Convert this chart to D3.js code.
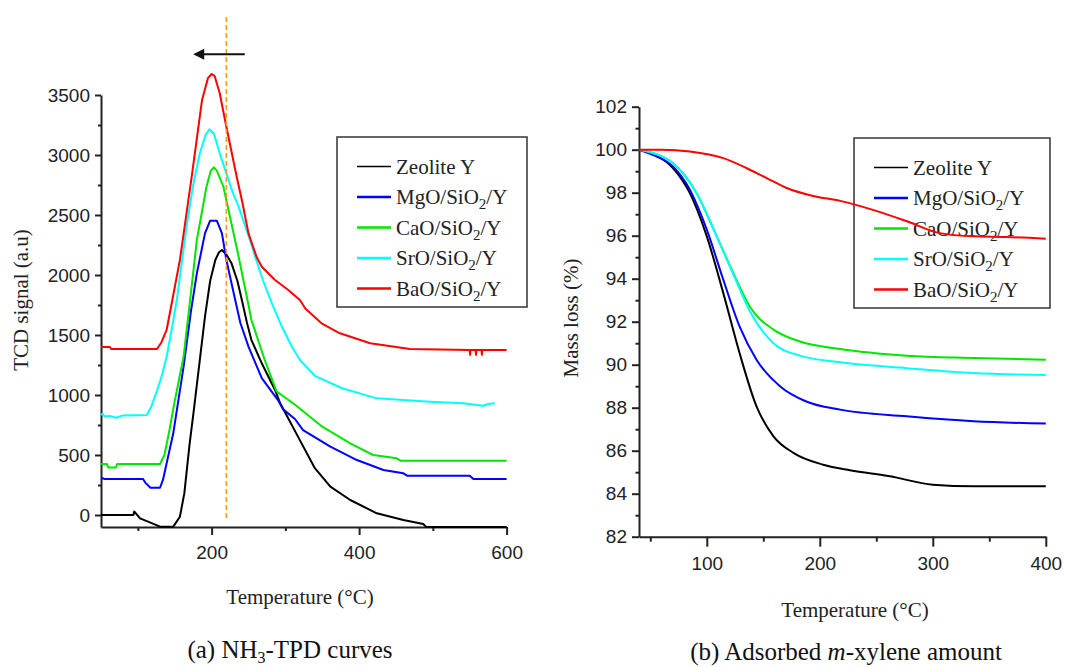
<!DOCTYPE html>
<html>
<head>
<meta charset="utf-8">
<script src="https://cdn.jsdelivr.net/npm/d3@7"></script>
<style>
  body { margin: 0; background: #fff; }
  svg { display: block; }
  .axis path, .axis line { stroke: #222; stroke-width: 2; }
  .axis text { font-family: "Liberation Sans", Arial, sans-serif; font-size: 19px; fill: #222; }
  .title { font-family: "Liberation Serif", "Times New Roman", serif; font-size: 21px; fill: #222; }
  .legend text { font-family: "Liberation Serif", "Times New Roman", serif; font-size: 21px; fill: #222; }
  .caption { font-family: "Liberation Serif", "Times New Roman", serif; font-size: 25px; fill: #111; }
</style>
</head>
<body>
<svg id="chart" width="1066" height="667"></svg>
<script>
// Series shared by both panels
const seriesNames = ['Zeolite Y', 'MgO/SiO2/Y', 'CaO/SiO2/Y', 'SrO/SiO2/Y', 'BaO/SiO2/Y'];
const seriesColors = ['#000000', '#0000ff', '#00e600', '#00ffff', '#ff0000'];

// (a) NH3-TPD, [temperature °C, TCD signal a.u.]
const tpdZeolite = [[50,0],[94,0],[95,30],[103,-28],[117,-64],[130,-97],[148,-97],[157,-14],[163,180],[170,585],[176,880],[184,1292],[191,1653],[198,1950],[205,2125],[210,2190],[214,2208],[220,2170],[227,2097],[235,1950],[241,1792],[248,1600],[254,1458],[268,1264],[286,1042],[293,931],[300,850],[320,620],[340,390],[361,236],[388,125],[424,14],[460,-42],[487,-75],[491,-100],[600,-100]];
const tpdMgO = [[50,310],[55,300],[107,300],[110,270],[117,227],[130,227],[134,292],[148,681],[162,1236],[172,1700],[180,2014],[191,2347],[198,2453],[207,2453],[214,2347],[220,2125],[232,1792],[239,1600],[250,1403],[268,1140],[290,958],[297,880],[313,800],[324,708],[361,569],[397,458],[433,375],[460,347],[465,328],[550,328],[555,300],[600,300]];
const tpdCaO = [[50,425],[58,425],[60,395],[70,395],[72,425],[130,425],[136,500],[142,680],[150,950],[162,1319],[171,1800],[180,2292],[193,2736],[199,2870],[203,2897],[207,2870],[216,2736],[235,2200],[250,1750],[254,1625],[272,1292],[288,1030],[315,910],[350,736],[388,597],[419,500],[451,472],[456,453],[600,453]];
const tpdSrO = [[50,833],[52,845],[55,820],[62,825],[70,810],[80,830],[112,833],[118,900],[125,1020],[132,1150],[139,1319],[146,1550],[153,1800],[166,2403],[175,2750],[184,3014],[192,3170],[197,3214],[203,3180],[211,3014],[229,2680],[236,2580],[252,2292],[259,2153],[270,1950],[282,1760],[296,1560],[309,1400],[320,1290],[340,1160],[377,1056],[424,972],[496,944],[541,931],[568,910],[575,925],[584,931]];
const tpdBaO = [[50,1400],[62,1400],[64,1383],[126,1383],[132,1440],[139,1542],[157,2125],[173,2819],[187,3458],[195,3640],[200,3675],[204,3660],[211,3514],[220,3236],[234,2819],[241,2625],[250,2347],[261,2150],[268,2069],[286,1958],[304,1875],[320,1790],[327,1720],[349,1597],[374,1514],[415,1431],[469,1383],[550,1375],[550.5,1335],[551,1375],[558,1375],[558.5,1335],[559,1375],[566,1375],[566.5,1335],[567,1375],[600,1375]];

// (b) adsorbed m-xylene, [temperature °C, mass %]
const tgaZeolite = [[40,100],[55,99.75],[70,99.15],[85,97.98],[100,95.97],[114.6,93.33],[129,90.54],[144,88.06],[159,86.67],[177,85.89],[203,85.35],[226.7,85.09],[262,84.81],[300,84.42],[336,84.35],[400,84.35]];
const tgaMgO = [[40,100],[55,99.7],[70,99.22],[85,98.14],[100,96.28],[114.6,93.95],[129,91.78],[144,90.23],[165,88.99],[188,88.29],[218,87.91],[277,87.6],[336,87.37],[400,87.26]];
const tgaCaO = [[40,100],[55,99.8],[70,99.38],[91,97.98],[108.8,95.97],[123.5,94.26],[138,92.71],[159,91.63],[182.5,91.08],[218,90.73],[277,90.42],[336,90.31],[400,90.23]];
const tgaSrO = [[40,100],[55,99.8],[70,99.38],[91,97.98],[108.8,95.97],[123.5,94.2],[138,92.5],[159,91.0],[182.5,90.42],[218,90.11],[277,89.84],[336,89.61],[400,89.52]];
const tgaBaO = [[40,100],[60,100],[85,99.92],[114.6,99.61],[135,99.15],[153,98.68],[170.7,98.22],[194,97.85],[218,97.62],[247,97.2],[277,96.67],[306,96.12],[336,95.97],[365,95.94],[400,95.86]];

// Ticks
const tpdXMajor = [200, 400, 600];
const tpdXMinor = [100, 300, 500];
const tpdYMajor = d3.range(0, 3501, 500);
const tpdYMinor = d3.range(250, 3300, 500);
const tgaXMajor = [100, 200, 300, 400];
const tgaXMinor = [50, 150, 250, 350];
const tgaYMajor = d3.range(82, 103, 2);
const tgaYMinor = d3.range(83, 102, 2);

// Peak shift annotation (temperature, signal)
const peakLineT = 220;
const peakLineSpan = [-25, 4175];
const arrowSpan = [245, 175];
const arrowLevel = 3840;

const svg = d3.select('#chart');

// Text with digits as subscripts (SiO2, NH3)
function subText(sel, label, subSize, shift) {
    label.split(/(\d)/).filter(s => s.length).forEach((part, i, arr) => {
        const t = sel.append('tspan').text(part);
        if (/\d/.test(part)) {
            t.attr('font-size', subSize).attr('dy', shift);
        } else if (i > 0 && /\d/.test(arr[i - 1])) {
            t.attr('dy', -shift);
        }
    });
}

function drawAxes(x, y, o) {
    const g = svg.append('g');
    const fmt = d3.format('d');
    g.append('g').attr('class', 'axis')
        .attr('transform', `translate(0,${y.range()[0]})`)
        .call(d3.axisBottom(x).tickValues(o.xMajor).tickFormat(fmt)
            .tickSize(o.xTick).tickPadding(o.xPad).tickSizeOuter(0));
    g.append('g').attr('class', 'axis')
        .attr('transform', `translate(0,${y.range()[0]})`)
        .call(d3.axisBottom(x).tickValues(o.xMinor).tickSize(o.xTick / 2).tickFormat(''))
        .call(s => s.select('.domain').remove());
    g.append('g').attr('class', 'axis')
        .attr('transform', `translate(${x.range()[0]},0)`)
        .call(d3.axisLeft(y).tickValues(o.yMajor).tickFormat(fmt)
            .tickSize(o.yTick).tickPadding(5).tickSizeOuter(0));
    g.append('g').attr('class', 'axis')
        .attr('transform', `translate(${x.range()[0]},0)`)
        .call(d3.axisLeft(y).tickValues(o.yMinor).tickSize(o.yTick / 2).tickFormat(''))
        .call(s => s.select('.domain').remove());
}

function drawLegend(bx, by, bw, bh) {
    const g = svg.append('g').attr('class', 'legend');
    g.append('rect')
        .attr('x', bx).attr('y', by).attr('width', bw).attr('height', bh)
        .attr('fill', '#fff').attr('stroke', '#333').attr('stroke-width', 1.5);
    seriesNames.forEach((name, i) => {
        const ly = by + 29.5 + i * 30.5;
        g.append('line')
            .attr('x1', bx + 20).attr('x2', bx + 54)
            .attr('y1', ly).attr('y2', ly)
            .attr('stroke', seriesColors[i])
            .attr('stroke-width', i === 0 ? 1.3 : 2.5);
        const t = g.append('text').attr('x', bx + 59).attr('y', ly + 7);
        subText(t, name, 15, 5);
    });
}

function drawSeries(x, y, list, curve) {
    const line = d3.line().x(d => x(d[0])).y(d => y(d[1])).curve(curve);
    list.forEach((data, i) => {
        svg.append('path')
            .datum(data)
            .attr('d', line)
            .attr('fill', 'none')
            .attr('stroke', seriesColors[i])
            .attr('stroke-width', 2)
            .attr('stroke-linejoin', 'round');
    });
}

// ---- (a) NH3-TPD
const xA = d3.scaleLinear().domain([50, 600]).range([101, 506.6]);
const yA = d3.scaleLinear().domain([-100, 3500]).range([527, 95]);

drawAxes(xA, yA, { xMajor: tpdXMajor, xMinor: tpdXMinor, yMajor: tpdYMajor, yMinor: tpdYMinor,
    xTick: 8, xPad: 11, yTick: 6 });
drawLegend(337, 137, 190, 170);
drawSeries(xA, yA, [tpdZeolite, tpdMgO, tpdCaO, tpdSrO, tpdBaO], d3.curveLinear);

svg.append('line')
    .attr('x1', xA(peakLineT)).attr('x2', xA(peakLineT))
    .attr('y1', yA(peakLineSpan[0])).attr('y2', yA(peakLineSpan[1]))
    .attr('stroke', '#ff9a1f').attr('stroke-width', 1.6)
    .attr('stroke-dasharray', '5,3');

const ax0 = xA(arrowSpan[0]), ax1 = xA(arrowSpan[1]), ay = yA(arrowLevel);
svg.append('line')
    .attr('x1', ax0).attr('x2', ax1 + 8).attr('y1', ay).attr('y2', ay)
    .attr('stroke', '#111').attr('stroke-width', 2);
svg.append('path')
    .attr('d', `M${ax1},${ay}L${ax1 + 11},${ay - 5.5}L${ax1 + 11},${ay + 5.5}Z`)
    .attr('fill', '#111');

svg.append('text').attr('class', 'title')
    .attr('transform', `translate(28,300) rotate(-90)`)
    .attr('text-anchor', 'middle')
    .text('TCD signal (a.u)');
svg.append('text').attr('class', 'title')
    .attr('x', 300).attr('y', 604)
    .attr('text-anchor', 'middle')
    .text('Temperature (°C)');
const capA = svg.append('text').attr('class', 'caption')
    .attr('x', 290).attr('y', 658).attr('text-anchor', 'middle');
subText(capA, '(a) NH3-TPD curves', 16, 5);

// ---- (b) adsorbed m-xylene
const xB = d3.scaleLinear().domain([40, 400]).range([639, 1045.8]);
const yB = d3.scaleLinear().domain([82, 102]).range([536.7, 106.7]);

drawAxes(xB, yB, { xMajor: tgaXMajor, xMinor: tgaXMinor, yMajor: tgaYMajor, yMinor: tgaYMinor,
    xTick: 10, xPad: 10, yTick: 7 });
drawLegend(854, 138, 196, 170);
drawSeries(xB, yB, [tgaZeolite, tgaMgO, tgaCaO, tgaSrO, tgaBaO], d3.curveMonotoneX);

svg.append('text').attr('class', 'title')
    .attr('transform', `translate(578,318) rotate(-90)`)
    .attr('text-anchor', 'middle')
    .text('Mass loss (%)');
svg.append('text').attr('class', 'title')
    .attr('x', 855).attr('y', 617)
    .attr('text-anchor', 'middle')
    .text('Temperature (°C)');
const capB = svg.append('text').attr('class', 'caption')
    .attr('x', 846).attr('y', 660).attr('text-anchor', 'middle');
capB.append('tspan').text('(b) Adsorbed ');
capB.append('tspan').attr('font-style', 'italic').text('m');
capB.append('tspan').text('-xylene amount');
</script>
</body>
</html>
